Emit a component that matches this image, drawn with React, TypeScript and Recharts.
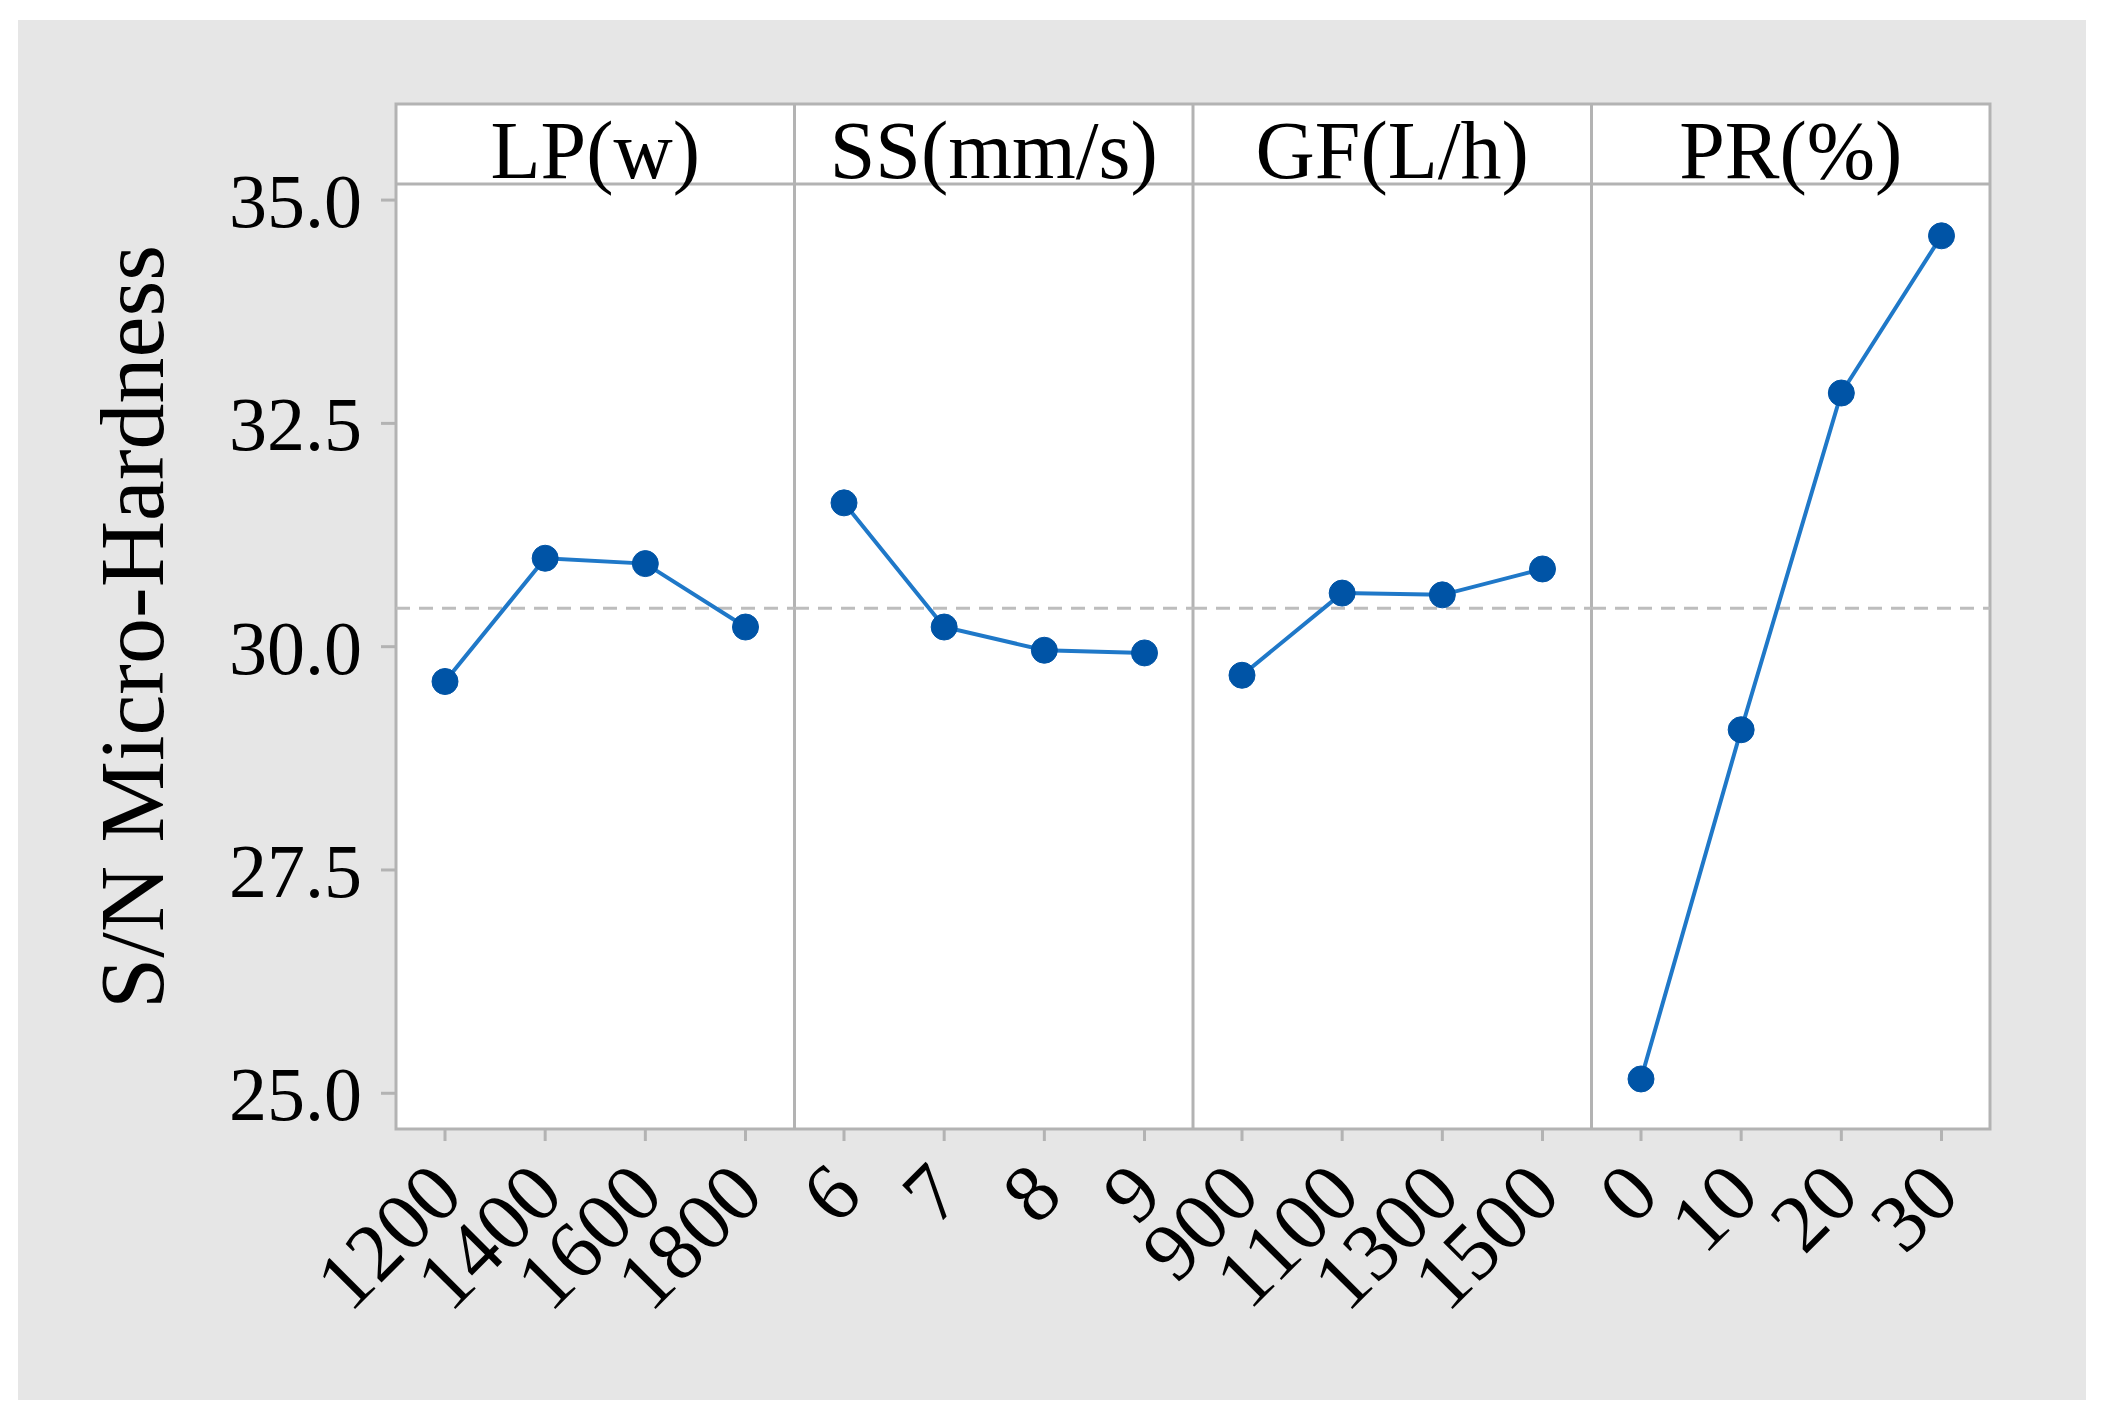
import React from 'react';
import { LineChart, Line, XAxis, YAxis, ReferenceLine } from 'recharts';

// factor levels (tick labels) and mean S/N ratio per level
const factorNames = ['LP(w)', 'SS(mm/s)', 'GF(L/h)', 'PR(%)'];
const lpLevels = ['1200', '1400', '1600', '1800'];
const lpSN = [29.61, 30.99, 30.93, 30.22];
const ssLevels = ['6', '7', '8', '9'];
const ssSN = [31.61, 30.22, 29.96, 29.93];
const gfLevels = ['900', '1100', '1300', '1500'];
const gfSN = [29.68, 30.6, 30.58, 30.87];
const prLevels = ['0', '10', '20', '30'];
const prSN = [25.16, 29.07, 32.84, 34.6];
const yTicks = [25, 27.5, 30, 32.5, 35];

const panels = [
  { levels: lpLevels, values: lpSN },
  { levels: ssLevels, values: ssSN },
  { levels: gfLevels, values: gfSN },
  { levels: prLevels, values: prSN },
];

const allValues = [...lpSN, ...ssSN, ...gfSN, ...prSN];
const grandMean = allValues.reduce((a, b) => a + b, 0) / allValues.length;

const FONT = '"Liberation Serif", "Times New Roman", serif';
const GRID = '#b3b3b3';
const PLOT_LEFT = 396;
const PLOT_RIGHT = 1990;
const FRAME_TOP = 104;
const STRIP_BOTTOM = 184;
const PLOT_BOTTOM = 1129;
const PANEL_W = (PLOT_RIGHT - PLOT_LEFT) / 4;
const AXIS_W = 200;
const TOP_PAD = 80;

const SlantTick = (props: any) => {
  const { x, y, payload } = props;
  const tx = x + 21;
  const ty = y + 57;
  return (
    <text
      x={tx}
      y={ty}
      textAnchor="end"
      transform={`rotate(-45 ${tx} ${ty})`}
      fontSize={82}
      fontFamily={FONT}
      fill="#000"
    >
      {payload.value}
    </text>
  );
};

const Panel = ({ index }: { index: number }) => {
  const { levels, values } = panels[index];
  const data = levels.map((lv, i) => ({ level: lv, sn: values[i] }));
  const plotH = PLOT_BOTTOM - STRIP_BOTTOM;
  return (
    <div
      style={{
        position: 'absolute',
        left: PLOT_LEFT + index * PANEL_W - AXIS_W,
        top: STRIP_BOTTOM - TOP_PAD,
      }}
    >
      <LineChart
        width={AXIS_W + PANEL_W}
        height={TOP_PAD + plotH + 220}
        data={data}
        margin={{ top: TOP_PAD, right: 0, bottom: 0, left: index === 0 ? 0 : AXIS_W }}
      >
        <XAxis
          dataKey="level"
          type="category"
          padding={{ left: 49, right: 49 }}
          height={220}
          interval={0}
          axisLine={false}
          tickSize={12}
          tickMargin={0}
          tickLine={{ stroke: GRID, strokeWidth: 3 }}
          tick={<SlantTick />}
        />
        <YAxis
          type="number"
          domain={[24.6, 35.18]}
          allowDataOverflow
          ticks={yTicks}
          interval={0}
          hide={index !== 0}
          width={AXIS_W}
          axisLine={false}
          tickSize={15}
          tickMargin={19}
          tickLine={{ stroke: GRID, strokeWidth: 3 }}
          tickFormatter={(v: number) => v.toFixed(1)}
          tick={{ fontSize: 76, fill: '#000', fontFamily: FONT }}
        />
        <ReferenceLine y={grandMean} stroke="#bdbdbd" strokeWidth={3} strokeDasharray="14 9" />
        <Line
          type="linear"
          dataKey="sn"
          stroke="#1f78c8"
          strokeWidth={4}
          dot={{ r: 13, fill: '#0054a6', stroke: '#0054a6', strokeWidth: 1 }}
          isAnimationActive={false}
        />
      </LineChart>
    </div>
  );
};

const App: React.FC = () => {
  return (
    <div
      style={{
        position: 'absolute',
        left: 0,
        top: 0,
        width: 2109,
        height: 1417,
        background: '#fff',
        fontFamily: FONT,
      }}
    >
      <svg width={2109} height={1417} style={{ position: 'absolute', left: 0, top: 0 }}>
        <rect x={18} y={20} width={2068} height={1380} fill="#e6e6e6" />
        <rect
          x={PLOT_LEFT}
          y={FRAME_TOP}
          width={PLOT_RIGHT - PLOT_LEFT}
          height={PLOT_BOTTOM - FRAME_TOP}
          fill="#fff"
          stroke={GRID}
          strokeWidth={3}
        />
        <line x1={PLOT_LEFT} x2={PLOT_RIGHT} y1={STRIP_BOTTOM} y2={STRIP_BOTTOM} stroke={GRID} strokeWidth={3} />
        {[1, 2, 3].map((i) => (
          <line
            key={i}
            x1={PLOT_LEFT + i * PANEL_W}
            x2={PLOT_LEFT + i * PANEL_W}
            y1={FRAME_TOP}
            y2={PLOT_BOTTOM}
            stroke={GRID}
            strokeWidth={3}
          />
        ))}
        {factorNames.map((name, i) => (
          <text
            key={name}
            x={PLOT_LEFT + (i + 0.5) * PANEL_W}
            y={178}
            textAnchor="middle"
            fontSize={82}
            fontFamily={FONT}
            fill="#000"
          >
            {name}
          </text>
        ))}
        <text
          transform="rotate(-90)"
          x={-627}
          y={163}
          textAnchor="middle"
          fontSize={92}
          fontFamily={FONT}
          fill="#000"
        >
          S/N Micro-Hardness
        </text>
      </svg>
      {panels.map((_, i) => (
        <Panel key={i} index={i} />
      ))}
    </div>
  );
};

export default App;
